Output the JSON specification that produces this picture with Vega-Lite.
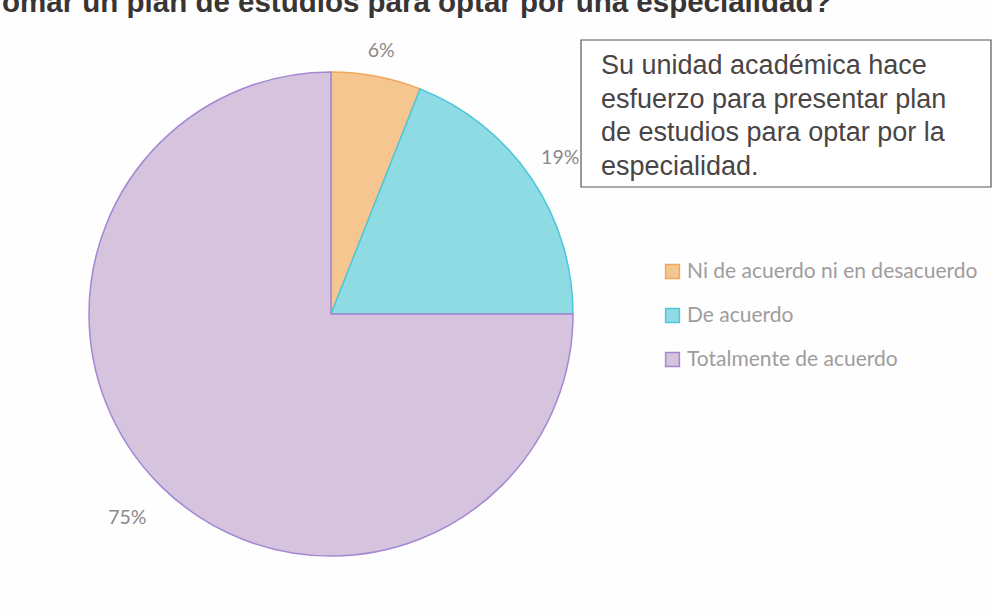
{
  "$schema": "https://vega.github.io/schema/vega-lite/v6.json",
  "width": 994,
  "height": 616,
  "padding": 0,
  "autosize": "none",
  "background": "#fefefe",
  "config": {
    "view": {"stroke": null},
    "legend": {
      "labelFont": "Lato",
      "labelFontSize": 21,
      "labelColor": "#a09c9c",
      "labelLimit": 0,
      "symbolType": "square",
      "symbolSize": 190,
      "symbolStrokeWidth": 1.5
    }
  },
  "datasets": {
    "respuestas": [
      {"respuesta": "Ni de acuerdo ni en desacuerdo", "porcentaje": 6, "etiqueta": "6%", "orden": 1},
      {"respuesta": "De acuerdo", "porcentaje": 19, "etiqueta": "19%", "orden": 2},
      {"respuesta": "Totalmente de acuerdo", "porcentaje": 75, "etiqueta": "75%", "orden": 3}
    ],
    "titulo": [
      {"texto": "omar un plan de estudios para optar por una especialidad?"}
    ],
    "recuadro": [
      {"texto": "Su unidad académica hace\nesfuerzo para presentar plan\nde estudios para optar por la\nespecialidad."}
    ]
  },
  "layer": [
    {
      "description": "Question title, running off the top edge of the page",
      "data": {"name": "titulo"},
      "mark": {
        "type": "text",
        "x": 2,
        "y": 12,
        "align": "left",
        "baseline": "alphabetic",
        "font": "Liberation Sans",
        "fontWeight": "bold",
        "fontSize": 29.5,
        "color": "#3a3535"
      },
      "encoding": {"text": {"field": "texto"}}
    },
    {
      "description": "Frame of the statement box",
      "data": {"name": "recuadro"},
      "mark": {
        "type": "rect",
        "x": 581,
        "x2": 991,
        "y": 40,
        "y2": 187,
        "fill": "#ffffff",
        "stroke": "#5a5555",
        "strokeWidth": 1.2
      },
      "encoding": {}
    },
    {
      "description": "Statement text inside the box",
      "data": {"name": "recuadro"},
      "mark": {
        "type": "text",
        "x": 601,
        "y": 74,
        "align": "left",
        "baseline": "alphabetic",
        "lineBreak": "\n",
        "lineHeight": 33.5,
        "font": "Liberation Sans",
        "fontSize": 27,
        "color": "#4a4545"
      },
      "encoding": {"text": {"field": "texto"}}
    },
    {
      "description": "Pie slices",
      "data": {"name": "respuestas"},
      "mark": {
        "type": "arc",
        "x": 331,
        "y": 314,
        "outerRadius": 242,
        "strokeWidth": 1.5
      },
      "encoding": {
        "theta": {"field": "porcentaje", "type": "quantitative", "stack": true},
        "order": {"field": "orden", "type": "quantitative"},
        "color": {
          "field": "respuesta",
          "type": "nominal",
          "title": null,
          "scale": {
            "domain": ["Ni de acuerdo ni en desacuerdo", "De acuerdo", "Totalmente de acuerdo"],
            "range": ["#f6c690", "#8fdbe4", "#d6c3dd"]
          },
          "legend": {
            "orient": "none",
            "legendX": 662,
            "legendY": 261,
            "rowPadding": 22,
            "labelOffset": 4
          }
        },
        "stroke": {
          "field": "respuesta",
          "type": "nominal",
          "title": null,
          "scale": {
            "domain": ["Ni de acuerdo ni en desacuerdo", "De acuerdo", "Totalmente de acuerdo"],
            "range": ["#f2a75c", "#4cc7dc", "#a487d4"]
          }
        }
      }
    },
    {
      "description": "Percentage labels just outside each slice",
      "data": {"name": "respuestas"},
      "mark": {
        "type": "text",
        "x": 331,
        "y": 314,
        "baseline": "middle",
        "font": "Lato",
        "fontSize": 19.5,
        "color": "#8c8888"
      },
      "encoding": {
        "theta": {"field": "porcentaje", "type": "quantitative", "stack": true},
        "order": {"field": "orden", "type": "quantitative"},
        "radius": {
          "field": "porcentaje",
          "type": "quantitative",
          "scale": {"type": "log", "domain": [6, 75], "range": [268, 288], "zero": false}
        },
        "text": {"field": "etiqueta"}
      }
    }
  ]
}
